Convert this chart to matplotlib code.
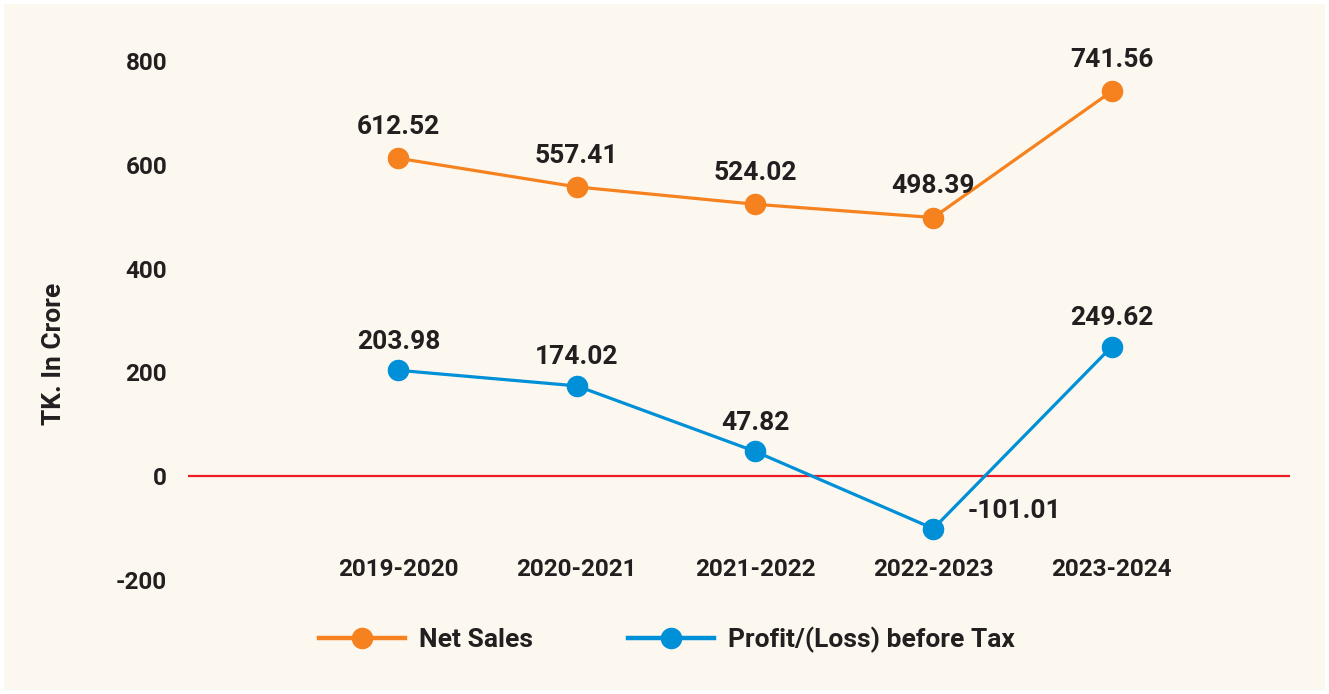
import matplotlib.pyplot as plt
from matplotlib.patches import Rectangle

# data
years = ["2019-2020", "2020-2021", "2021-2022", "2022-2023", "2023-2024"]
net_sales = [612.52, 557.41, 524.02, 498.39, 741.56]
profit_before_tax = [203.98, 174.02, 47.82, -101.01, 249.62]
y_ticks = [-200, 0, 200, 400, 600, 800]

orange = "#F5821F"
blue = "#0090D8"
text_col = "#231F20"
bg = "#FCF8F0"

plt.rcParams['font.family'] = ['Roboto', 'DejaVu Sans']
plt.rcParams['font.weight'] = 'bold'
plt.rcParams['axes.unicode_minus'] = False

fig = plt.figure(figsize=(13.29, 6.94), dpi=100, facecolor="white")
fig.patches.append(Rectangle((4 / 1329, 4 / 694), 1321 / 1329, 686 / 694,
                             transform=fig.transFigure, facecolor=bg,
                             edgecolor="none", zorder=-10))

ax = fig.add_axes([188 / 1329, 1 - 580 / 694, 1102 / 1329, 519 / 694])
ax.set_facecolor("none")

x = list(range(len(years)))
ax.axhline(0, color="#ED1C24", lw=1.6, zorder=1)
ax.plot(x, net_sales, color=orange, lw=2.3, marker="o", ms=14.5,
        label="Net Sales", zorder=3)
ax.plot(x, profit_before_tax, color=blue, lw=2.3, marker="o", ms=14.5,
        label="Profit/(Loss) before Tax", zorder=3)

for xi, v in zip(x, net_sales):
    ax.annotate(f"{v:.2f}", (xi, v), xytext=(0, 22.5), textcoords="offset points",
                ha="center", va="center", fontsize=19, color=text_col, fontweight="bold")
for xi, v in zip(x, profit_before_tax):
    if v < 0:
        ax.annotate(f"{v:.2f}", (xi, v), xytext=(25, 13), textcoords="offset points",
                    ha="left", va="center", fontsize=19, color=text_col, fontweight="bold")
    else:
        ax.annotate(f"{v:.2f}", (xi, v), xytext=(0, 20.5), textcoords="offset points",
                    ha="center", va="center", fontsize=19, color=text_col, fontweight="bold")

ax.set_xlim(-1.18, 5.0)
ax.set_ylim(-200, 800)
ax.set_yticks(y_ticks)
ax.set_xticks(x)
ax.set_xticklabels(years)

for s in ["top", "right", "left"]:
    ax.spines[s].set_visible(False)
ax.spines["bottom"].set_position(("data", -152))
ax.spines["bottom"].set_visible(False)

ax.tick_params(axis="both", length=0, labelsize=17.5, labelcolor=text_col)
ax.tick_params(axis="y", pad=15)
ax.tick_params(axis="x", pad=2)
for lbl in ax.get_xticklabels() + ax.get_yticklabels():
    lbl.set_fontweight("bold")

ax.set_ylabel("TK. In Crore", fontsize=19, fontweight="bold", color=text_col)
ax.yaxis.set_label_coords((66 - 188) / 1102, (580 - 354) / 519)

leg = fig.legend(loc="center", bbox_to_anchor=(667 / 1329, 1 - 640 / 694), ncol=2,
                 frameon=False, fontsize=19, handlelength=3.25, handletextpad=0.55,
                 columnspacing=3.6)
for t in leg.get_texts():
    t.set_color(text_col)
    t.set_fontweight("bold")
for h in leg.legend_handles:
    h.set_linewidth(3.2)

fig.savefig("out.png", dpi=100, facecolor="white")
